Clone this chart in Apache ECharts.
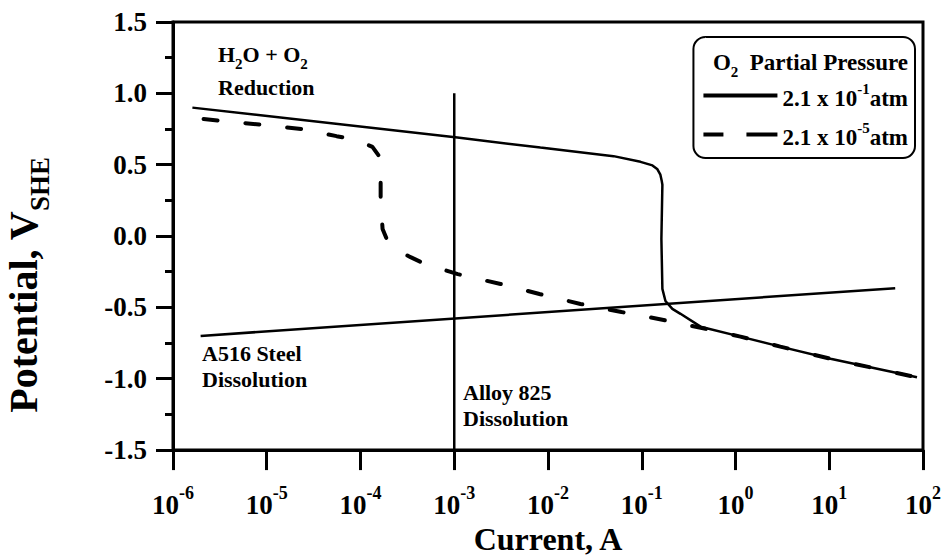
<!DOCTYPE html>
<html><head><meta charset="utf-8">
<script src="https://cdn.jsdelivr.net/npm/echarts@6/dist/echarts.min.js"></script>
<style>html,body{margin:0;padding:0;background:#fff}#c{width:947px;height:560px}</style>
</head><body><div id="c"></div>
<script>
const FONT = '"Liberation Serif","Times New Roman",serif';

// O2 partial pressure 2.1e-1 atm (solid)
const solidCurrent = [1.61e-6, 1.08e-3, 8.3e-3, 5.0e-2, 9.7e-2, 0.130, 0.146, 0.158, 0.163, 0.166, 0.162, 0.166, 0.179, 0.212, 0.259, 0.424, 1.13, 3.01, 10.3, 86.3];
const solidPotential = [0.90, 0.69, 0.62, 0.56, 0.52, 0.495, 0.47, 0.43, 0.39, 0.36, -0.02, -0.37, -0.455, -0.51, -0.545, -0.635, -0.705, -0.775, -0.86, -0.99];

// O2 partial pressure 2.1e-5 atm (dashed)
const dashCurrent = [2.12e-6, 8.6e-6, 2.34e-5, 5.56e-5, 8.9e-5, 1.34e-4, 1.60e-4, 1.64e-4, 1.64e-4, 1.72e-4, 1.90e-4, 2.5e-4, 3.42e-4, 4.94e-4, 1.09e-3, 3.12e-3, 8.1e-3, 2.22e-2, 6.08e-2, 0.171, 0.479, 1.13, 3.01, 10.3, 86.3];
const dashPotential = [0.82, 0.78, 0.75, 0.70, 0.675, 0.625, 0.555, 0.47, 0.25, 0.05, -0.02, -0.10, -0.148, -0.197, -0.267, -0.336, -0.406, -0.476, -0.532, -0.588, -0.650, -0.705, -0.775, -0.86, -0.99];

// A516 steel dissolution
const a516Current = [1.97e-6, 50.5];
const a516Potential = [-0.70, -0.365];

// Alloy 825 dissolution
const alloyCurrent = [1e-3, 1e-3];
const alloyPotential = [1.0, -1.5];

// axis ticks
const xTickExponents = [-6, -5, -4, -3, -2, -1, 0, 1, 2];
const yTicks = [-1.5, -1.0, -0.5, 0.0, 0.5, 1.0, 1.5];

const S1 = '2.1 x 10^-1 atm';
const S2 = '2.1 x 10^-5 atm';
const legendLabels = {};
legendLabels[S1] = '{b|2.1 x 10}{sup|-1}{b|atm}';
legendLabels[S2] = '{b|2.1 x 10}{sup|-5}{b|atm}';

function zip(a, b) { return a.map((v, i) => [v, b[i]]); }

const bold = { fontFamily: FONT, fontWeight: 'bold', color: '#000' };
const txt = (s, x, y) => ({ type: 'text', x: x, y: y, style: { text: s, fontSize: 22, fontFamily: FONT, fontWeight: 'bold', fill: '#000', align: 'left', verticalAlign: 'middle' } });

const chart = echarts.init(document.getElementById('c'), null, { renderer: 'svg' });
chart.setOption({
  animation: false,
  backgroundColor: '#fff',
  grid: { left: 173, right: 24, top: 22, bottom: 108, show: true, borderColor: '#000', borderWidth: 3 },
  xAxis: {
    type: 'log', logBase: 10, min: 1e-6, max: 100, splitNumber: 8,
    axisLine: { onZero: false, lineStyle: { color: '#000', width: 3 } },
    axisTick: { show: true, length: 20, lineStyle: { color: '#000', width: 3 } },
    splitLine: { show: false },
    minorTick: { show: false },
    axisLabel: {
      margin: 34,
      formatter: function (v) {
        const e = Math.round(Math.log10(v));
        if (xTickExponents.indexOf(e) < 0) return '';
        return '{b|10}{sup|' + e + '}';
      },
      rich: {
        b: Object.assign({ fontSize: 27, padding: [7, 0, 0, 0], verticalAlign: 'bottom' }, bold),
        sup: Object.assign({ fontSize: 18, verticalAlign: 'top' }, bold)
      }
    },
    name: 'Current, A', nameLocation: 'middle', nameGap: 70,
    nameTextStyle: Object.assign({ fontSize: 32 }, bold)
  },
  yAxis: {
    type: 'value', min: -1.5, max: 1.5, interval: 0.5,
    axisLine: { show: true, onZero: false, lineStyle: { color: '#000', width: 3 } },
    axisTick: { show: true, length: 17, lineStyle: { color: '#000', width: 3 } },
    minorTick: { show: true, splitNumber: 2, length: 8, lineStyle: { color: '#000', width: 3 } },
    splitLine: { show: false },
    axisLabel: Object.assign({ fontSize: 27, margin: 26, formatter: v => (yTicks.indexOf(v) >= 0 ? v.toFixed(1) : '') }, bold)
  },
  legend: {
    orient: 'vertical', right: 32, top: 37,
    padding: [44, 7, 9, 10],
    borderColor: '#000', borderWidth: 2, borderRadius: 12,
    itemWidth: 74, itemHeight: 4, itemGap: 10,
    data: [
      { name: S1, icon: 'path://M0,0L74,0L74,4L0,4Z' },
      { name: S2, icon: 'path://M0,0L20,0L20,4L0,4Z M43,0L74,0L74,4L43,4Z' }
    ],
    formatter: n => legendLabels[n],
    textStyle: Object.assign({
      fontSize: 23,
      rich: {
        b: Object.assign({ fontSize: 23, padding: [6, 0, 0, 0], verticalAlign: 'bottom' }, bold),
        sup: Object.assign({ fontSize: 15, verticalAlign: 'top' }, bold)
      }
    }, bold)
  },
  graphic: [
    { type: 'text', x: 908, y: 65, style: { text: '{b|O}{sub|2}{b|  Partial Pressure}', align: 'right', verticalAlign: 'middle',
      rich: { b: Object.assign({ fontSize: 23, padding: [0, 0, 5, 0], verticalAlign: 'top' }, bold), sub: Object.assign({ fontSize: 15, verticalAlign: 'bottom' }, bold) } } },
    { type: 'text', x: 218, y: 57, style: { text: '{b|H}{sub|2}{b|O + O}{sub|2}', align: 'left', verticalAlign: 'middle',
      rich: { b: Object.assign({ fontSize: 22, padding: [0, 0, 6, 0], verticalAlign: 'top' }, bold), sub: Object.assign({ fontSize: 15, verticalAlign: 'bottom' }, bold) } } },
    txt('Reduction', 218, 87),
    txt('A516 Steel', 202, 353),
    txt('Dissolution', 202, 379),
    txt('Alloy 825', 463, 392),
    txt('Dissolution', 463, 418),
    { type: 'text', x: 28, y: 285, rotation: Math.PI / 2, style: { text: '{b|Potential, V}{sub|SHE}', align: 'center', verticalAlign: 'middle',
      rich: { b: Object.assign({ fontSize: 40, padding: [0, 0, 10, 0], verticalAlign: 'top' }, bold), sub: Object.assign({ fontSize: 27, verticalAlign: 'bottom' }, bold) } } }
  ],
  series: [
    { name: S1, type: 'line', data: zip(solidCurrent, solidPotential), symbol: 'none', z: 4,
      itemStyle: { color: '#000' }, lineStyle: { color: '#000', width: 2.5 } },
    { name: S2, type: 'line', data: zip(dashCurrent, dashPotential), symbol: 'none', z: 3,
      itemStyle: { color: '#000' }, lineStyle: { color: '#000', width: 4, type: [14, 28], cap: 'round' } },
    { name: 'A516 Steel Dissolution', type: 'line', data: zip(a516Current, a516Potential), symbol: 'none',
      itemStyle: { color: '#000' }, lineStyle: { color: '#000', width: 2.5 } },
    { name: 'Alloy 825 Dissolution', type: 'line', data: zip(alloyCurrent, alloyPotential), symbol: 'none',
      itemStyle: { color: '#000' }, lineStyle: { color: '#000', width: 2.5 } }
  ]
});
</script>
</body></html>
